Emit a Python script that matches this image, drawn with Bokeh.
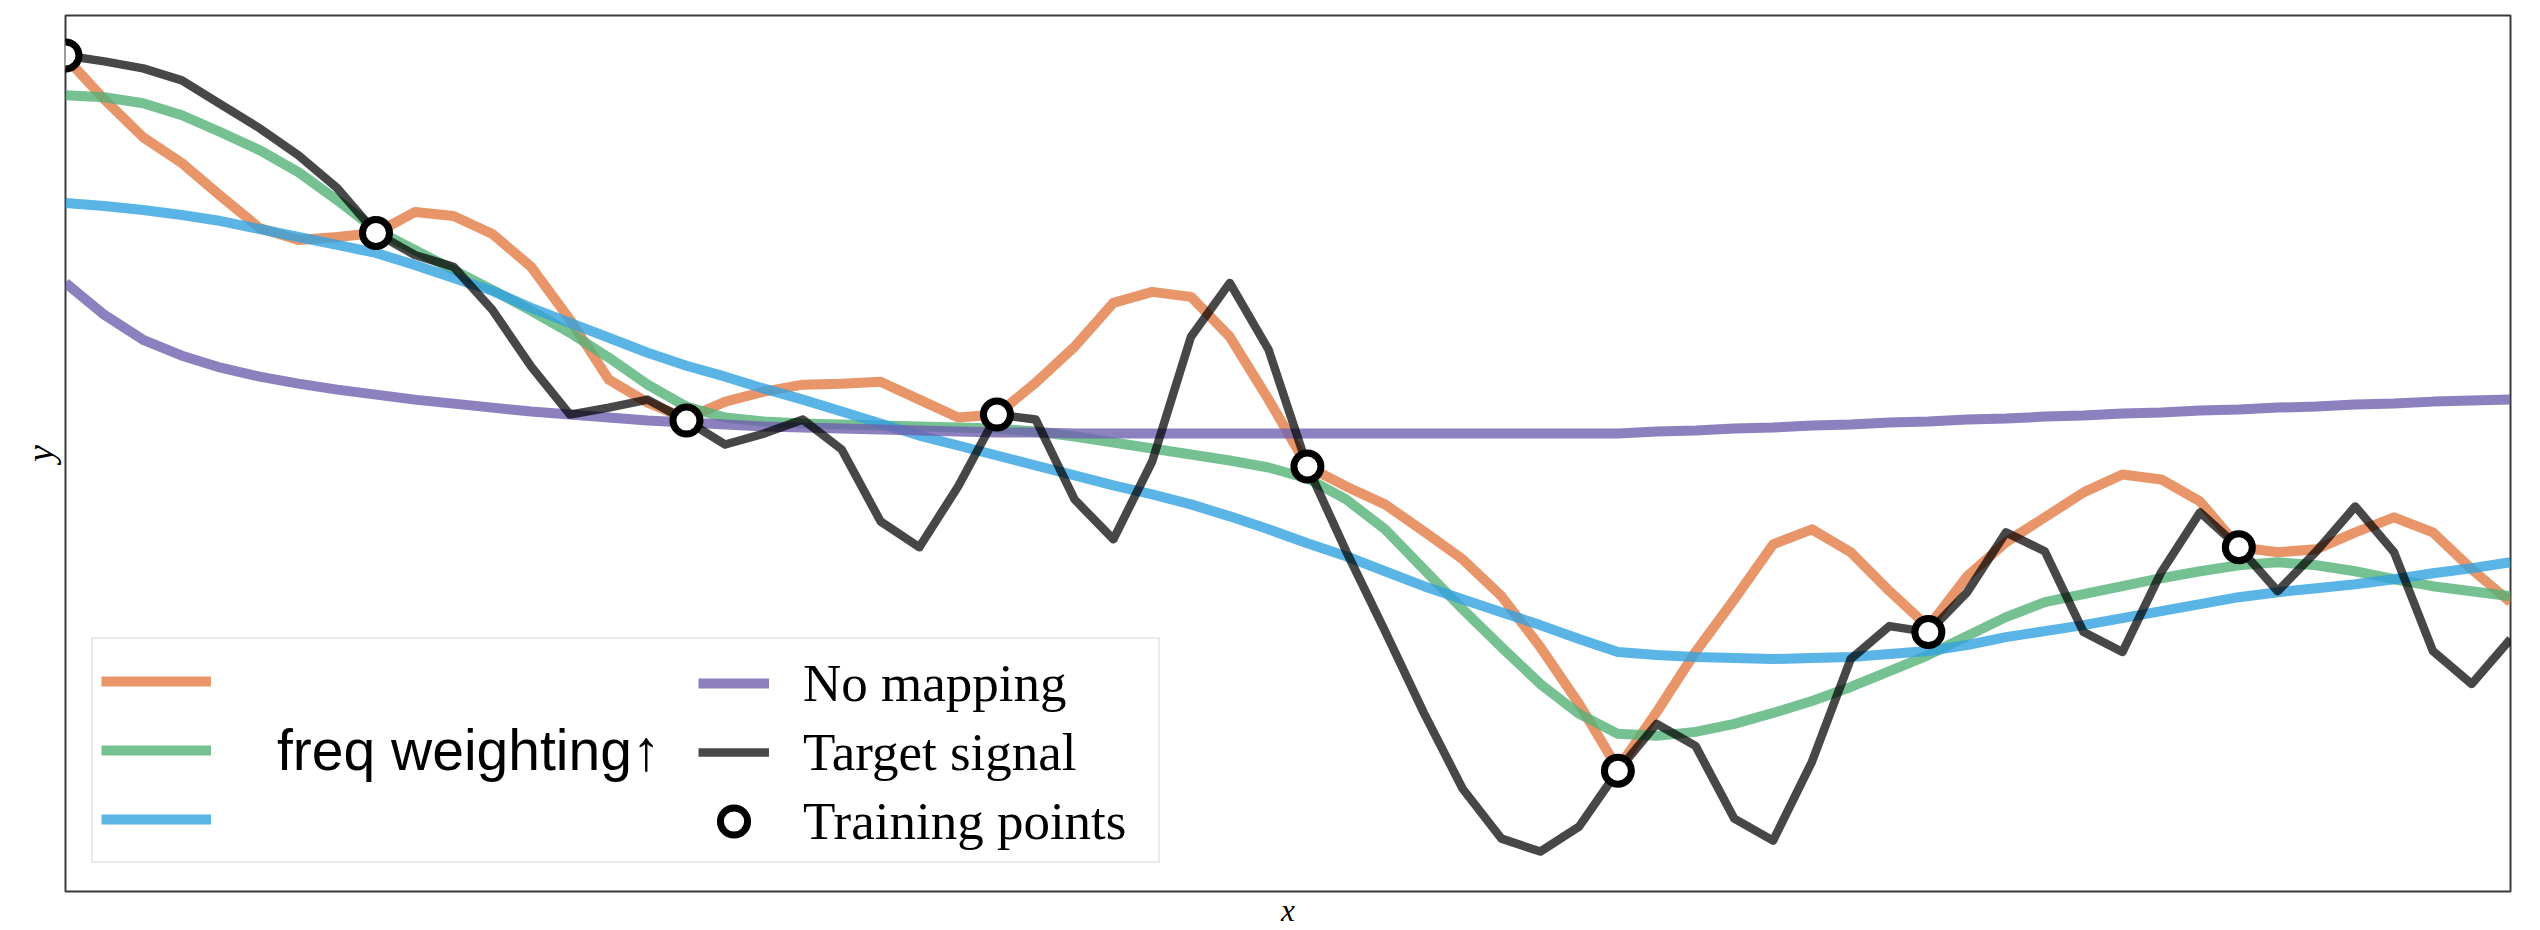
from bokeh.plotting import figure
from bokeh.models import Range1d, Legend, LegendItem, FixedTicker
from bokeh.embed import file_html
from bokeh.resources import INLINE

# ---- data (sample index along x, signal value in arbitrary units) ----
sample_index = list(range(64))

target_signal = [838, 832, 825, 813, 789, 765, 738, 705, 660, 638,
                 626, 583, 526, 478, 485, 493, 472, 448, 459, 473,
                 443, 371, 345, 406, 478, 473, 393, 353, 431, 556,
                 610, 543, 426, 341, 261, 179, 103, 53, 40, 65,
                 121, 168, 146, 73, 51, 130, 233, 266, 260, 300,
                 360, 341, 260, 240, 320, 380, 345, 301, 341, 386,
                 340, 241, 208, 253]

fit_weight_low = [836, 794, 756, 730, 697, 665, 653, 656, 660, 681,
                  677, 659, 626, 573, 513, 490, 474, 491, 501, 508,
                  509, 511, 493, 475, 478, 510, 546, 590, 601, 596,
                  556, 493, 426, 406, 388, 361, 333, 296, 245, 188,
                  123, 180, 240, 293, 348, 363, 340, 301, 265, 316,
                  350, 375, 400, 418, 413, 391, 345, 340, 343, 360,
                  375, 360, 323, 290]

fit_weight_mid = [798, 796, 790, 778, 761, 743, 721, 693, 663, 643,
                  623, 603, 582, 560, 535, 508, 486, 475, 471, 469,
                  468, 467, 466, 465, 464, 461, 456, 450, 444, 438,
                  432, 425, 414, 393, 363, 323, 283, 245, 208, 178,
                  158, 156, 160, 168, 179, 191, 205, 221, 237, 256,
                  275, 290, 298, 306, 314, 321, 327, 330, 327, 321,
                  313, 306, 301, 296]

fit_weight_high = [690, 687, 683, 678, 672, 664, 656, 648, 640, 628,
                   615, 602, 585, 570, 555, 540, 527, 516, 504, 493,
                   481, 469, 457, 447, 437, 427, 417, 407, 398, 388,
                   376, 363, 349, 336, 321, 306, 293, 280, 267, 253,
                   240, 237, 235, 234, 233, 234, 235, 238, 241, 247,
                   255, 261, 267, 274, 281, 288, 295, 300, 304, 308,
                   313, 319, 324, 330]

no_mapping = [610, 578, 553, 537, 525, 516, 509, 503, 498, 493,
              489, 485, 481, 478, 475, 472, 470, 468, 466, 465,
              464, 463, 462, 461, 460, 460, 459, 459, 459, 459,
              459, 459, 459, 459, 459, 459, 459, 459, 459, 459,
              459, 461, 462, 464, 465, 467, 468, 470, 471, 473,
              474, 476, 477, 479, 480, 482, 483, 485, 486, 488,
              489, 491, 492, 493]

train_index = [0, 8, 16, 24, 32, 40, 48, 56]
train_y = [838, 660, 472, 478, 426, 121, 260, 345]

legend_labels = ["No mapping", "Target signal", "Training points"]
annotation_text = "freq weighting\u2191"
x_label = "x"
y_label = "y"

# ---- figure ----
p = figure(width=2540, height=930,
           x_range=Range1d(0, 63), y_range=Range1d(0, 878),
           output_backend="svg", toolbar_location=None,
           min_border_left=65, min_border_right=30,
           min_border_top=15, min_border_bottom=37)

p.background_fill_color = "white"
p.border_fill_color = "white"
p.outline_line_color = "#3a3a3a"
p.outline_line_width = 2
p.grid.visible = False

for ax, lab, fs in ((p.xaxis, x_label, "31px"), (p.yaxis, y_label, "38px")):
    ax.ticker = FixedTicker(ticks=[])
    ax.axis_label = lab
    ax.axis_label_text_font = "Liberation Serif"
    ax.axis_label_text_font_style = "italic"
    ax.axis_label_text_font_size = fs
    ax.axis_label_text_color = "black"
    ax.major_label_standoff = 0
    ax.major_tick_line_color = None
    ax.minor_tick_line_color = None
    ax.major_tick_out = 0
    ax.minor_tick_out = 0
    ax.major_tick_in = 0
    ax.minor_tick_in = 0
    ax.axis_line_color = None
p.xaxis.axis_label_standoff = 1
p.yaxis.axis_label_standoff = 5

lw = 10
r_low = p.line(sample_index, fit_weight_low, line_color="#E27A45", line_alpha=0.8,
               line_width=lw, line_join="round")
r_mid = p.line(sample_index, fit_weight_mid, line_color="#54B177", line_alpha=0.8,
               line_width=lw, line_join="round")
r_high = p.line(sample_index, fit_weight_high, line_color="#31A1E0", line_alpha=0.8,
                line_width=lw, line_join="round")
r_none = p.line(sample_index, no_mapping, line_color="#6F60AE", line_alpha=0.8,
                line_width=lw, line_join="round")
r_tgt = p.line(sample_index, target_signal, line_color="black", line_alpha=0.72,
               line_width=8.5, line_join="round")
r_tr = p.scatter(train_index, train_y, marker="circle", size=27,
                 fill_color="white", line_color="black", line_width=7)

common = dict(glyph_height=68, spacing=1, padding=8, margin=0,
              label_text_color="black", orientation="vertical")

# left block: three fits, the middle one carries the sans-serif annotation
leg_a = Legend(items=[LegendItem(label=" ", renderers=[r_low]),
                      LegendItem(label=annotation_text, renderers=[r_mid]),
                      LegendItem(label=" ", renderers=[r_high])],
               location=(26, 28), glyph_width=110, label_standoff=66,
               label_width=873, label_text_font="Liberation Sans",
               label_text_font_size="57px",
               border_line_color="#d6d6d6", border_line_width=2,
               background_fill_color="white", background_fill_alpha=1.0,
               **common)

leg_b = Legend(items=[LegendItem(label=legend_labels[0], renderers=[r_none]),
                      LegendItem(label=legend_labels[1], renderers=[r_tgt]),
                      LegendItem(label=legend_labels[2], renderers=[r_tr])],
               location=(625, 28), glyph_width=71, label_standoff=34,
               label_text_font="Liberation Serif", label_text_font_size="53px",
               border_line_alpha=0, background_fill_alpha=0, **common)

p.add_layout(leg_a)
p.add_layout(leg_b)

open("out.html", "w").write(file_html(p, INLINE))
